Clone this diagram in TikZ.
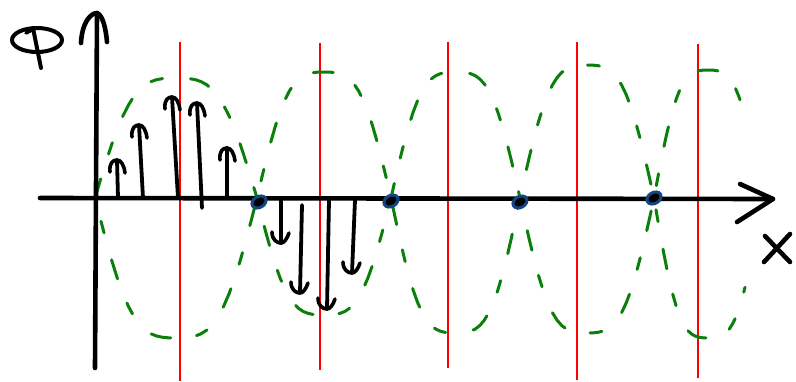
\documentclass[tikz,border=0pt]{standalone}
\definecolor{wavegreen}{RGB}{10,128,10}
\definecolor{dotblue}{RGB}{20,70,130}
\tikzset{
  axisline/.style={line width=4.6pt, line cap=round, line join=round, black},
  redline/.style={line width=1.6pt, red},
  wave/.style={wavegreen, line width=3pt, line cap=round, dash pattern=on 20pt off 26pt on 12pt off 28pt},
  stem/.style={line width=3.8pt, line cap=round},
  hook/.style={line width=3.6pt, line cap=round, line join=round},
  zerodot/.style={draw=dotblue, fill=black, line width=3pt},
  declare function={lobe(\t)=(sin(\t)+0.1*sin(3*\t))/0.9;}
}
\begin{document}
\begin{tikzpicture}[x=1pt,y=-1pt]
\useasboundingbox (0,0) rectangle (796,381);
% red lines
\foreach \xx/\ya/\yb in {180/42/381, 320/43/370, 448/42/368, 577/42/380, 698/44/378}
  \draw[redline] (\xx,\ya) -- (\xx,\yb);
% green dashed waves
\draw[wave]
  plot[domain=95:257,samples=30] (\x,{198-120*lobe((\x-95)/162*180)})
  -- plot[domain=257:391,samples=30] (\x,{198+117*lobe((\x-257)/134*180)})
  -- plot[domain=391:520,samples=30] (\x,{198-126*lobe((\x-391)/129*180)})
  -- plot[domain=520:654,samples=30] (\x,{198+135*lobe((\x-520)/134*180)})
  -- plot[domain=654:745,samples=30] (\x,{198-128*lobe((\x-654)/108*180)});
\draw[wave, dash phase=22pt]
  plot[domain=95:257,samples=30] (\x,{198+140*lobe((\x-95)/162*180)})
  -- plot[domain=257:391,samples=30] (\x,{198-126*lobe((\x-257)/134*180)})
  -- plot[domain=391:520,samples=30] (\x,{198+135*lobe((\x-391)/129*180)})
  -- plot[domain=520:654,samples=30] (\x,{198-133*lobe((\x-520)/134*180)})
  -- plot[domain=654:745,samples=30] (\x,{198+140*lobe((\x-654)/108*180)});
% axes
\coordinate (xa) at (40,198);
\coordinate (xb) at (773,199);
\coordinate (xu) at (740,184);
\coordinate (xl) at (737,222);
\coordinate (ya) at (95,368);
\coordinate (yb) at (97,13);
\coordinate (yl) at (81,43);
\coordinate (yr) at (107,42);
\draw[axisline] (xa) -- (xb);
\draw[axisline] (xu) -- (xb) -- (xl);
\draw[axisline] (ya) -- (yb);
\draw[axisline] (yl) .. controls (82,22) and (91,13) .. (yb) .. controls (103,15) and (106,30) .. (yr);
% label Phi
\draw[line width=4pt] (37,40) ellipse[x radius=25, y radius=12];
\draw[line width=4pt, line cap=round] (33,28) -- (41,68);
\draw[line width=3.4pt, line cap=round] (26,33) -- (34,29);
% label X
\draw[axisline] (765,236) -- (790,262);
\draw[axisline] (790,234) -- (764,262);
% arrows up
\foreach \n/\bx/\by/\tx/\ty in {1/118/198/117/160, 2/143/198/139/125, 3/178/198/172/97, 4/202/208/197/103, 5/227/198/227/148}{
  \coordinate (ub\n) at (\bx,\by);
  \coordinate (ut\n) at (\tx,\ty);
  \draw[stem] (ub\n) -- (ut\n);
  \draw[hook, shift={(ut\n)}] (-7,12) .. controls (-8,3) and (-4,0) .. (0,0) .. controls (4,0) and (7,5) .. (8,13);
}
% arrows down
\foreach \n/\bx/\by/\tx/\ty in {1/281/200/281/243, 2/302/205/300/293, 3/329/200/327/309, 4/355/200/352/273}{
  \coordinate (db\n) at (\bx,\by);
  \coordinate (dt\n) at (\tx,\ty);
  \draw[stem] (db\n) -- (dt\n);
  \draw[hook, shift={(dt\n)}] (-9,-11) .. controls (-9,-3) and (-4,0) .. (0,0) .. controls (3,0) and (6,-4) .. (8,-10);
}
% zero points
\foreach \n/\zx/\zy in {1/259/202, 2/391/201, 3/520/202, 4/654/198}
  \draw[zerodot, rotate around={30:(\zx,\zy)}] (\zx,\zy) ellipse[x radius=7.5, y radius=5.5];
\end{tikzpicture}
\end{document}
